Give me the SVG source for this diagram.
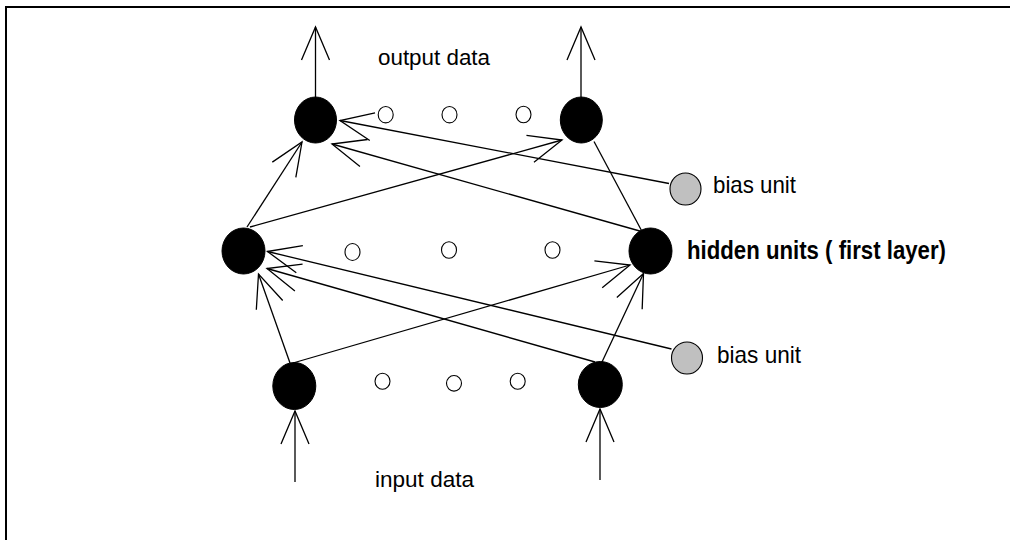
<svg xmlns="http://www.w3.org/2000/svg" width="1010" height="540" viewBox="0 0 1010 540">
<defs>
<marker id="arr" markerUnits="userSpaceOnUse" markerWidth="40" markerHeight="40" viewBox="-36 -20 40 40" refX="0" refY="0" orient="auto">
<path d="M -33 -14 L 0 0 L -33 14" fill="none" stroke="#000" stroke-width="1.3"/>
</marker>
<style>
.frame{fill:none;stroke:#000;stroke-width:2}
.unit{fill:#000;stroke:#000;stroke-width:1}
.dot{fill:#fff;stroke:#000;stroke-width:1.1}
.bias{fill:#c0c0c0;stroke:#000;stroke-width:1.1}
.c{fill:none;stroke:#000;stroke-width:1.3}
.a{marker-end:url(#arr)}
.t{font-family:"Liberation Sans",Arial,sans-serif;fill:#000}
</style>
</defs>
<rect width="1010" height="540" fill="#fff"/>
<path class="frame" d="M 6 540 V 7 H 1010"/>

<g id="connectors">
<line class="c a" x1="315.5" y1="97" x2="315.5" y2="27"/>
<line class="c a" x1="581" y1="97" x2="581" y2="27"/>
<line class="c a" x1="295" y1="482" x2="295" y2="411"/>
<line class="c a" x1="600" y1="480" x2="600" y2="409"/>
<line class="c a" x1="247" y1="227" x2="302" y2="142"/>
<line class="c a" x1="250" y1="227" x2="562" y2="140"/>
<line class="c a" x1="641.5" y1="231.5" x2="332" y2="144"/>
<line class="c" x1="594" y1="141.5" x2="641.5" y2="230.5"/>
<line class="c a" x1="669" y1="183.5" x2="340" y2="120.5"/>
<line class="c a" x1="290" y1="363" x2="258.5" y2="274"/>
<line class="c a" x1="293" y1="363" x2="630" y2="265"/>
<line class="c a" x1="595" y1="362" x2="267" y2="268.5"/>
<line class="c a" x1="602" y1="362" x2="643.5" y2="273.5"/>
<line class="c a" x1="671.5" y1="349" x2="267.5" y2="251.5"/>
</g>

<g id="output-left"><ellipse class="unit" cx="315.5" cy="120" rx="21" ry="23"/></g>
<g id="output-dots">
<ellipse class="dot" cx="385.7" cy="114.7" rx="7.5" ry="8.2"/>
<ellipse class="dot" cx="449.5" cy="114.7" rx="7.5" ry="8.2"/>
<ellipse class="dot" cx="523.5" cy="114.5" rx="7.5" ry="8.2"/>
</g>
<g id="output-right"><ellipse class="unit" cx="581.3" cy="120" rx="21" ry="23"/></g>

<g id="hidden-left"><ellipse class="unit" cx="243.5" cy="251" rx="21.5" ry="23"/></g>
<g id="hidden-dots">
<ellipse class="dot" cx="352.5" cy="252" rx="7.5" ry="8.5"/>
<ellipse class="dot" cx="449" cy="250" rx="7.5" ry="8.2"/>
<ellipse class="dot" cx="552.5" cy="250" rx="7.5" ry="8.2"/>
</g>
<g id="hidden-right"><ellipse class="unit" cx="650.5" cy="251" rx="21.5" ry="23"/></g>

<g id="input-left"><ellipse class="unit" cx="294.3" cy="386" rx="21.5" ry="23.5"/></g>
<g id="input-dots">
<ellipse class="dot" cx="382.5" cy="381.3" rx="7.5" ry="8"/>
<ellipse class="dot" cx="454" cy="383.3" rx="7.5" ry="7.8"/>
<ellipse class="dot" cx="517.7" cy="381.3" rx="7.5" ry="8"/>
</g>
<g id="input-right"><ellipse class="unit" cx="600.3" cy="384.5" rx="22" ry="23"/></g>

<g id="bias-upper"><ellipse class="bias" cx="685.5" cy="189" rx="15.5" ry="16"/></g>
<g id="bias-lower"><ellipse class="bias" cx="687" cy="358" rx="15.5" ry="16"/></g>

<g id="labels">
<text class="t" x="378" y="65" font-size="22" textLength="112" lengthAdjust="spacingAndGlyphs">output data</text>
<text class="t" x="375" y="487" font-size="22" textLength="99" lengthAdjust="spacingAndGlyphs">input data</text>
<text class="t" x="713" y="193" font-size="24" textLength="83" lengthAdjust="spacingAndGlyphs">bias unit</text>
<text class="t" x="717" y="363" font-size="24" textLength="84" lengthAdjust="spacingAndGlyphs">bias unit</text>
<text class="t" x="687" y="259" font-size="25" font-weight="bold" textLength="259" lengthAdjust="spacingAndGlyphs">hidden units ( first layer)</text>
</g>
</svg>
